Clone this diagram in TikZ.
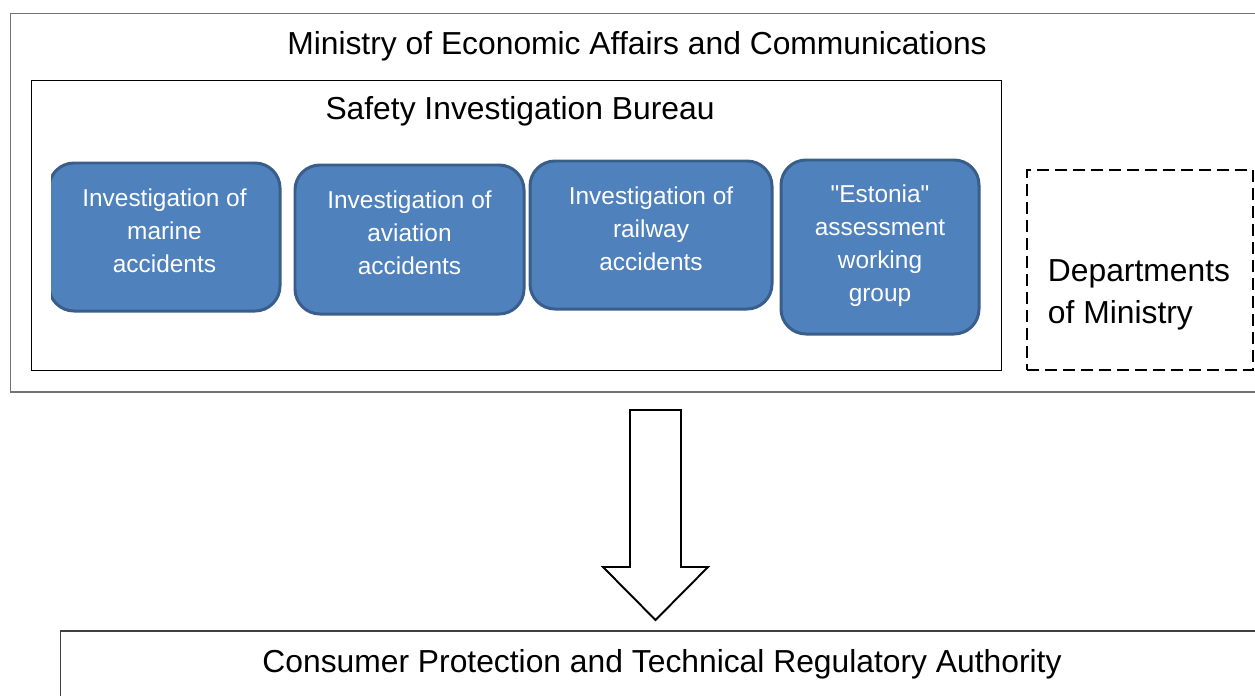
\documentclass[tikz,border=0pt]{standalone}
\usepackage{fontspec}
\setmainfont{Liberation Sans}
\usetikzlibrary{positioning}

\definecolor{unitfill}{HTML}{4F81BD}
\definecolor{unitline}{HTML}{3A5E8B}

\begin{document}
\begin{tikzpicture}[
  x=0.2mm, y=-0.2mm,
  font=\fontsize{18.1}{23.9}\selectfont,
  outer/.style={draw=black!55, line width=0.85pt, inner sep=0pt, anchor=north west},
  bureau/.style={draw, line width=0.6pt, inner sep=0pt, anchor=north west},
  unit/.style={draw=unitline, fill=unitfill, line width=1.7pt, rounded corners=5mm,
               text=white, align=center, inner sep=0pt, text depth=2.6mm,
               font=\fontsize{13.9}{18.8}\selectfont},
  dept/.style={draw, dashed, dash pattern=on 2.4mm off 1.2mm, line width=0.85pt, inner sep=0pt},
  blockarr/.style={draw, line width=1.1pt, fill=white, line join=miter},
]
\clip (0,0) rectangle (1255,695);

% frames
\node[outer, minimum width=250.4mm, minimum height=75.6mm] (ministry) at (10,13) {};
\node (ministrytitle) at (637,46) {Ministry of Economic Affairs and Communications};
\node[bureau, minimum width=194mm, minimum height=58mm] (sib) at (31,80) {};
\node (sibtitle) at (520,111) {Safety Investigation Bureau};

% divisions of the bureau
\begin{scope}
  \clip (51,150) rectangle (300,330);
  \node[unit, minimum width=46.2mm, minimum height=29.6mm] (marine) at (164.5,237)
    {Investigation of\\marine\\accidents};
\end{scope}
\node[unit, minimum width=45.8mm, minimum height=29.8mm] (aviation) at (409.5,239.5)
  {Investigation of\\aviation\\accidents};
\node[unit, minimum width=48.4mm, minimum height=29.6mm] (railway) at (651,235)
  {Investigation of\\railway\\accidents};
\node[unit, minimum width=39.6mm, minimum height=34.8mm, text depth=1.6mm] (estonia) at (880,247)
  {\textquotedbl Estonia\textquotedbl\\assessment\\working\\group};

\node[dept, minimum width=45.2mm, minimum height=40mm] (depts) at (1140,270) {};
\node[align=left] (deptstext) at (1139,295) {Departments\\of Ministry};

% transfer to the authority
\node[outer, draw=black!75, minimum width=240.4mm, minimum height=14mm] (cpta) at (60,630) {};
\node (cptatitle) at (662,664) {Consumer Protection and Technical Regulatory Authority};

\coordinate (arrtop) at (655.5,410);
\draw[blockarr] (arrtop) ++(-25.5,0) -- ++(51,0) -- ++(0,157) -- ++(27,0)
  -- ++(-52.5,53) -- ++(-52.5,-53) -- ++(27,0) -- cycle;
\end{tikzpicture}
\end{document}
